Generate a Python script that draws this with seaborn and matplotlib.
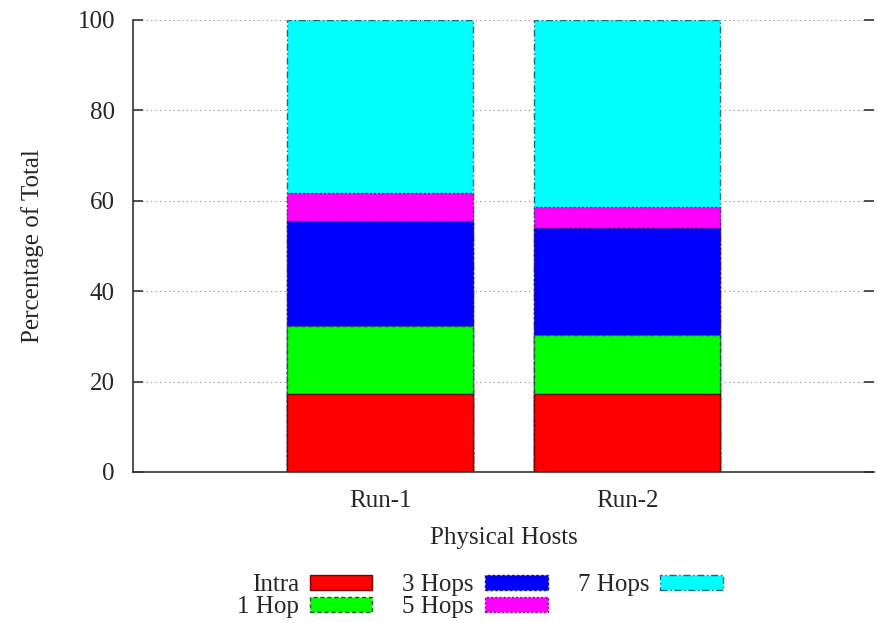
import matplotlib
matplotlib.use("Agg")
import matplotlib.pyplot as plt
import seaborn as sns
import pandas as pd
import numpy as np
from matplotlib.patches import Patch

runs = ["Run-1", "Run-2"]
series = ["Intra", "1 Hop", "3 Hops", "5 Hops", "7 Hops"]
intra = [17.2, 17.2]
hop1 = [15.2, 13.0]
hop3 = [23.1, 23.7]
hop5 = [6.2, 4.7]
hop7 = [38.3, 41.4]

colors = ["#ff0000", "#00ff00", "#0000ff", "#ff00ff", "#00ffff"]
edges = ["#7a0000", "#2a5a2a", "#1a1a7a", "#7a1a7a", "#1a6a7a"]
styles = ["-", (0, (3, 2)), (0, (2, 1.5)), (0, (1.5, 1.5)), (0, (5, 2, 1, 2))]

sns.set_theme(style="white")
plt.rcParams["font.family"] = ["Liberation Serif", "DejaVu Serif"]

fig = plt.figure(figsize=(8.79, 6.23), dpi=100)
ax = fig.add_axes([133/879, 1-472/623, (874-133)/879, (472-20)/623])

vals = [intra, hop1, hop3, hop5, hop7]
cum = np.cumsum(np.array(vals), axis=0)
# draw from the top layer down so lower segments overlay
for i in range(len(series)-1, -1, -1):
    df = pd.DataFrame({"run": runs, "value": cum[i]})
    sns.barplot(data=df, x="run", y="value", order=runs, color=colors[i],
                width=0.75, edgecolor=edges[i], linewidth=1.0, linestyle=styles[i],
                saturation=1, ax=ax, errorbar=None, zorder=2)

ax.set_xlim(-1, 2)
ax.set_ylim(0, 100)
ax.set_yticks([0, 20, 40, 60, 80, 100])
ax.yaxis.grid(True, linestyle=(0, (1, 3)), color="#888888", linewidth=0.8)
ax.xaxis.grid(False)
ax.set_axisbelow(True)
for s in ["top", "right"]:
    ax.spines[s].set_visible(False)
for s in ["left", "bottom"]:
    ax.spines[s].set_color("#333333")
    ax.spines[s].set_linewidth(1.2)
ax.tick_params(axis="y", direction="in", length=7, width=1.2, color="#333333",
               left=True, right=True, labelsize=18, pad=13)
ax.tick_params(axis="x", length=0, labelsize=18, pad=13)
ax.set_xlabel("Physical Hosts", fontsize=18, labelpad=11)
ax.set_ylabel("Percentage of Total", fontsize=18, labelpad=24)

handles = [Patch(facecolor=colors[i], edgecolor=edges[i], linestyle=styles[i], linewidth=1.0)
           for i in range(len(series))]
leg = fig.legend(handles, series, loc="center", bbox_to_anchor=(0.546, 0.043), ncol=3,
                 markerfirst=False, frameon=False, fontsize=18, handlelength=2.5,
                 handleheight=0.55, columnspacing=1.2, handletextpad=0.45, labelspacing=0.0)
for t in leg.get_texts():
    t.set_ha("right")

fig.savefig("out.png", dpi=100)
